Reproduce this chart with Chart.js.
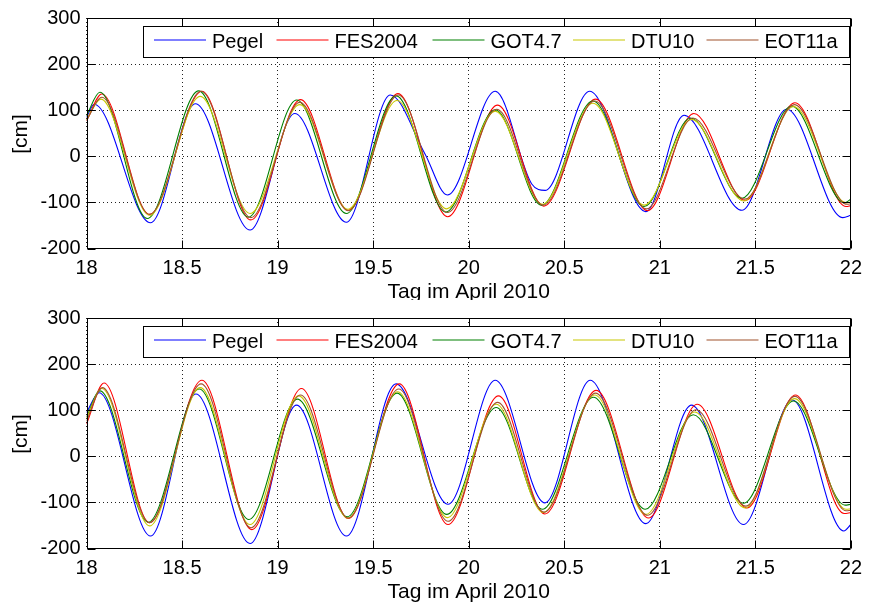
<!DOCTYPE html>
<html>
<head>
<meta charset="utf-8">
<script src="https://cdn.jsdelivr.net/npm/chart.js@4"></script>
<style>
  html,body{margin:0;padding:0;background:#fff;}
  .wrap{position:absolute;left:0;width:870px;}
</style>
</head>
<body>
<div class="wrap" style="top:0px;height:300px"><canvas id="c1" width="870" height="300"></canvas></div>
<div class="wrap" style="top:300px;height:303px"><canvas id="c2" width="870" height="303"></canvas></div>
<script>
// ---------- labels ----------
const xTickLabels = ['18','18.5','19','19.5','20','20.5','21','21.5','22'];
const yTickLabels = ['-200','-100','0','100','200','300'];
const seriesNames = ['Pegel','FES2004','GOT4.7','DTU10','EOT11a'];
const seriesColors = ['#0000ff','#ff0000','#008000','#c8c800','#a0522d'];
const xLabel = 'Tag im April 2010';
const yLabel = '[cm]';

// ---------- top panel (time in days, value in cm; extrema) ----------
const topPegelT = [18.00,18.04,18.335,18.57,18.856,19.09,19.36,19.59,19.77,19.889,20.139,20.33,20.40,20.633,20.927,21.127,21.43,21.664,21.958,22.00];
const topPegelV = [84,113,-144,114,-160,93,-143,133,6,-84,141,-60,-74,141,-120,89,-117,102,-133,-128];
const topFesT = [18.00,18.08,18.33,18.604,18.86,19.12,19.37,19.63,19.89,20.151,20.393,20.664,20.936,21.178,21.447,21.707,21.975,22.00];
const topFesV = [77,135,-126,141,-138,123,-117,136,-131,111,-108,124,-118,93,-96,116,-109,-107];
const topGotT = [18.00,18.07,18.318,18.587,18.847,19.10,19.36,19.62,19.88,20.139,20.381,20.65,20.918,21.161,21.43,21.69,21.967,22.00];
const topGotV = [88,139,-135,142,-132,122,-124,131,-121,101,-106,120,-109,83,-91,109,-101,-93];
const topDtuT = [18.00,18.075,18.33,18.595,18.856,19.116,19.368,19.625,19.885,20.139,20.386,20.65,20.918,21.166,21.44,21.70,21.976,22.00];
const topDtuV = [80,124,-128,130,-124,112,-115,121,-114,98,-104,115,-106,80,-97,108,-101,-99];
const topEotT = [18.00,18.08,18.33,18.60,18.86,19.116,19.37,19.632,19.889,20.147,20.39,20.66,20.93,21.173,21.445,21.704,21.98,22.00];
const topEotV = [78,128,-126,141,-133,117,-118,133,-122,102,-106,120,-114,83,-93,112,-104,-103];

// ---------- bottom panel ----------
const botPegelT = [18.00,18.066,18.335,18.573,18.856,19.099,19.36,19.62,19.892,20.139,20.399,20.636,20.927,21.166,21.438,21.693,21.963,22.00];
const botPegelV = [95,138,-173,135,-189,111,-173,157,-104,165,-101,165,-146,111,-148,122,-162,-148];
const botFesT = [18.00,18.092,18.33,18.604,18.865,19.125,19.37,19.637,19.892,20.156,20.399,20.667,20.941,21.196,21.456,21.71,21.965,22.00];
const botFesV = [70,159,-144,165,-159,147,-135,157,-148,131,-125,143,-134,113,-112,133,-124,-122];
const botGotT = [18.00,18.07,18.323,18.59,18.85,19.104,19.365,19.625,19.885,20.144,20.386,20.653,20.924,21.175,21.438,21.70,21.97,22.00];
const botGotV = [85,142,-143,146,-137,124,-131,137,-126,106,-115,128,-115,90,-102,120,-106,-104];
const botDtuT = [18.00,18.08,18.33,18.595,18.856,19.11,19.368,19.628,19.889,20.144,20.39,20.66,20.927,21.183,21.447,21.705,21.975,22.00];
const botDtuV = [82,147,-151,149,-148,131,-134,140,-133,113,-122,133,-126,96,-112,125,-115,-114];
const botEotT = [18.00,18.083,18.33,18.60,18.861,19.12,19.37,19.634,19.892,20.151,20.395,20.664,20.936,21.19,21.45,21.707,21.975,22.00];
const botEotV = [76,149,-144,157,-155,133,-134,146,-141,117,-121,137,-128,101,-108,130,-118,-117];

const topSeries = [[topPegelT,topPegelV],[topFesT,topFesV],[topGotT,topGotV],[topDtuT,topDtuV],[topEotT,topEotV]];
const botSeries = [[botPegelT,botPegelV],[botFesT,botFesV],[botGotT,botGotV],[botDtuT,botDtuV],[botEotT,botEotV]];

const FONT = '"Liberation Sans", Arial, Helvetica, sans-serif';

function makeDatasets(series){
  return series.map((s,i)=>({
    label: seriesNames[i],
    data: s[0].map((t,k)=>({x:t,y:s[1][k]})),
    borderColor: seriesColors[i],
    backgroundColor: seriesColors[i],
    borderWidth: 1.1,
    pointRadius: 0,
    fill: false,
    cubicInterpolationMode: 'monotone',
    order: 5 - i
  }));
}

const framePlugin = {
  id: 'matlabFrame',
  afterDraw(chart){
    const ctx = chart.ctx;
    const a = chart.chartArea;
    const xs = chart.scales.x, ys = chart.scales.y;
    const L = Math.round(a.left)+0.5, R = Math.round(a.right)-0.5, T = Math.round(a.top)+0.5, B = Math.round(a.bottom)-0.5;
    ctx.save();
    ctx.strokeStyle = '#000';
    ctx.lineWidth = 1;
    ctx.setLineDash([]);
    ctx.beginPath();
    ctx.rect(L, T, R-L, B-T);
    ctx.stroke();
    const tl = 8;
    ctx.beginPath();
    xs.ticks.forEach(t=>{
      const px = Math.round(xs.getPixelForValue(t.value))+0.5;
      ctx.moveTo(px,B); ctx.lineTo(px,B-tl);
      ctx.moveTo(px,T); ctx.lineTo(px,T+tl);
    });
    ys.ticks.forEach(t=>{
      const py = Math.round(ys.getPixelForValue(t.value))+0.5;
      ctx.moveTo(L,py); ctx.lineTo(L+tl,py);
      ctx.moveTo(R,py); ctx.lineTo(R-tl,py);
    });
    ctx.stroke();

    // legend box
    const bx0 = 143.5, bx1 = 849.5, by0 = 26.5, by1 = 57.5;
    ctx.fillStyle = '#fff';
    ctx.fillRect(bx0, by0, bx1-bx0, by1-by0);
    ctx.strokeRect(bx0, by0, bx1-bx0, by1-by0);
    const lineStart = [154, 276.5, 432.5, 573, 706.5];
    ctx.font = '20px ' + FONT;
    ctx.textBaseline = 'alphabetic';
    ctx.textAlign = 'left';
    seriesNames.forEach((n,i)=>{
      ctx.strokeStyle = seriesColors[i];
      ctx.lineWidth = 1.1;
      ctx.beginPath();
      ctx.moveTo(lineStart[i], 40);
      ctx.lineTo(lineStart[i]+52, 40);
      ctx.stroke();
      ctx.fillStyle = '#000';
      ctx.fillText(n, lineStart[i]+58, 48);
    });

    // axis titles
    ctx.fillStyle = '#000';
    ctx.font = '21px ' + FONT;
    ctx.textAlign = 'center';
    ctx.textBaseline = 'alphabetic';
    ctx.fillText(xLabel, (a.left+a.right)/2, 297.5);
    ctx.save();
    ctx.translate(21.5, 134);
    ctx.rotate(-Math.PI/2);
    ctx.textBaseline = 'middle';
    ctx.fillText(yLabel, 0, 0);
    ctx.restore();
    ctx.restore();
  }
};

function makeChart(id, series, canvasH){
  return new Chart(document.getElementById(id), {
    type: 'line',
    data: { datasets: makeDatasets(series) },
    options: {
      responsive: false,
      animation: false,
      events: [],
      layout: { padding: { left: 0, right: 12.5, top: 16.5, bottom: 0 } },
      plugins: { legend: { display: false }, tooltip: { enabled: false } },
      scales: {
        x: {
          type: 'linear', min: 18, max: 22,
          afterFit(s){ s.height = canvasH - 248.5; },
          ticks: {
            stepSize: 0.5, autoSkip: false, maxRotation: 0, padding: 8,
            color: '#000', font: { family: FONT, size: 20 },
            callback: (v, i) => xTickLabels[i]
          },
          grid: { color: '#222', lineWidth: 1, drawTicks: false },
          border: { display: false, dash: [1, 3] }
        },
        y: {
          type: 'linear', min: -200, max: 300,
          afterFit(s){ s.width = 86.5; },
          ticks: {
            stepSize: 100, padding: 6,
            color: '#000', font: { family: FONT, size: 20 },
            callback: (v, i) => yTickLabels[i]
          },
          grid: { color: '#222', lineWidth: 1, drawTicks: false },
          border: { display: false, dash: [1, 3] }
        }
      }
    },
    plugins: [framePlugin]
  });
}

makeChart('c1', topSeries, 300);
makeChart('c2', botSeries, 303);
</script>
</body>
</html>
